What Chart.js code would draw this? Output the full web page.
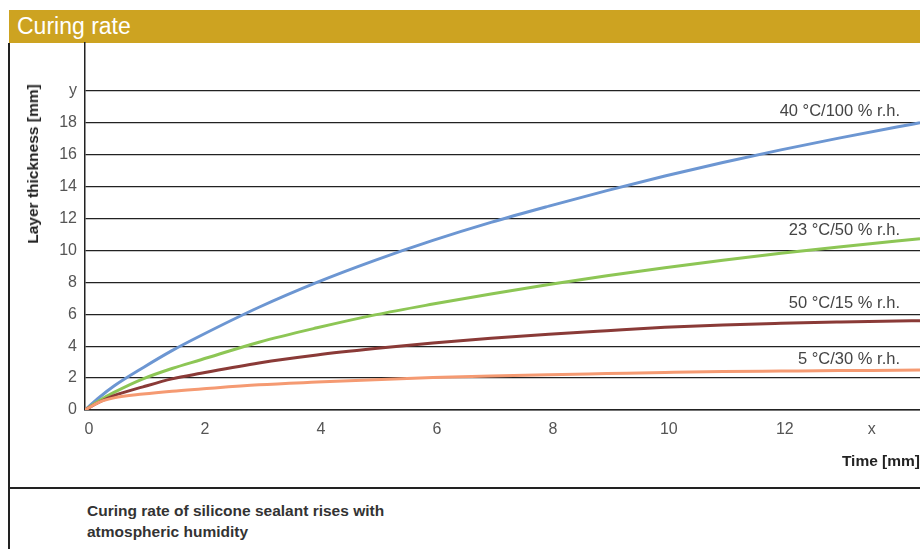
<!DOCTYPE html>
<html>
<head>
<meta charset="utf-8">
<script src="https://cdn.jsdelivr.net/npm/chart.js@4"></script>
<style>
  html, body { margin: 0; padding: 0; background: #fff; }
  body { width: 920px; height: 549px; position: relative; overflow: hidden; font-family: "Liberation Sans", Arial, sans-serif; }
  #header { position: absolute; left: 9px; top: 10px; width: 911px; height: 33px; background: #CDA321; color: #fff; font-size: 23px; line-height: 33px; padding-left: 8px; box-sizing: border-box; }
  #leftBorder { position: absolute; left: 8px; top: 43px; width: 2px; height: 506px; background: #222; }
  #sep { position: absolute; left: 9px; top: 487px; width: 911px; height: 2px; background: #222; }
  #caption { position: absolute; left: 87px; top: 500px; font-size: 15.5px; font-weight: bold; line-height: 21px; color: #333; }
  #chartWrap { position: absolute; left: 0; top: 0; width: 920px; height: 549px; }
  .lbl { position: absolute; right: 20px; font-size: 16.5px; line-height: 18px; color: #444; white-space: nowrap; }
  #ytitle { position: absolute; left: 33px; top: 164px; transform: translate(-50%, -50%) rotate(-90deg); font-size: 15.5px; font-weight: bold; color: #222; white-space: nowrap; }
  #xtitle { position: absolute; right: 0px; top: 452px; font-size: 15.5px; font-weight: bold; color: #222; white-space: nowrap; line-height: 18px; }
</style>
</head>
<body>
<div id="header">Curing rate</div>
<div id="leftBorder"></div>
<div id="sep"></div>
<div id="caption">Curing rate of silicone sealant rises with<br>atmospheric humidity</div>
<div id="chartWrap"><canvas id="c" width="920" height="549"></canvas></div>
<div id="ytitle">Layer thickness [mm]</div>
<div id="xtitle">Time [mm]</div>
<div class="lbl" style="top:101px">40 °C/100 % r.h.</div>
<div class="lbl" style="top:220px">23 °C/50 % r.h.</div>
<div class="lbl" style="top:293px">50 °C/15 % r.h.</div>
<div class="lbl" style="top:349px">5 °C/30 % r.h.</div>
<script>
const xs = [0, 0.25, 0.5, 1, 1.5, 2, 3, 4, 5, 6, 7, 8, 9, 10, 11, 12, 13, 14, 14.4];
const s40_100 = [0, 0.8, 1.5, 2.65, 3.72, 4.67, 6.44, 8.0, 9.38, 10.63, 11.76, 12.78, 13.75, 14.66, 15.51, 16.3, 17.04, 17.74, 18.0];
const s23_50  = [0, 0.6, 1.1, 1.95, 2.6, 3.15, 4.25, 5.15, 5.96, 6.64, 7.27, 7.86, 8.41, 8.92, 9.39, 9.82, 10.22, 10.59, 10.73];
const s50_15  = [0, 0.5, 0.9, 1.45, 1.95, 2.3, 2.95, 3.45, 3.85, 4.2, 4.5, 4.75, 4.97, 5.18, 5.33, 5.43, 5.51, 5.58, 5.6];
const s5_30   = [0, 0.5, 0.76, 1.0, 1.18, 1.32, 1.58, 1.75, 1.9, 2.03, 2.13, 2.21, 2.28, 2.35, 2.41, 2.44, 2.47, 2.49, 2.5];
const xTickValues = [0, 2, 4, 6, 8, 10, 12, 13.5];
const xTickLabels = ['0', '2', '4', '6', '8', '10', '12', 'x'];
const yTickValues = [0, 2, 4, 6, 8, 10, 12, 14, 16, 18, 20];
const yTickLabels = ['0', '2', '4', '6', '8', '10', '12', '14', '16', '18', 'y'];

function pts(arr) { return xs.map((x, i) => ({x: x, y: arr[i]})); }
function ds(label, arr, color) {
  return { label, data: pts(arr), borderColor: color, borderWidth: 3, pointRadius: 0, fill: false, cubicInterpolationMode: 'monotone' };
}
const tickFont = { family: '"Liberation Sans", Arial, sans-serif', size: 16 };

new Chart(document.getElementById('c'), {
  type: 'line',
  data: {
    datasets: [
      ds('5 °C/30 % r.h.', s5_30, '#F59A72'),
      ds('50 °C/15 % r.h.', s50_15, '#8A3A37'),
      ds('23 °C/50 % r.h.', s23_50, '#8DC655'),
      ds('40 °C/100 % r.h.', s40_100, '#6C96D2')
    ]
  },
  options: {
    responsive: false,
    animation: false,
    devicePixelRatio: 1,
    layout: { padding: { left: 0, right: 0, top: 43, bottom: 0 } },
    plugins: { legend: { display: false }, tooltip: { enabled: false } },
    scales: {
      x: {
        type: 'linear', min: 0, max: 14.4,
        afterFit: s => { s.height = 139; },
        afterBuildTicks: s => { s.ticks = xTickValues.map(v => ({ value: v })); },
        grid: { display: true, drawOnChartArea: false, drawTicks: false },
        border: { display: true, color: '#222', width: 1.5 },
        ticks: { padding: 10, labelOffset: 4, color: '#555', font: tickFont,
                 autoSkip: false, maxRotation: 0,
                 callback: (v, i) => xTickLabels[i] }
      },
      y: {
        type: 'linear', min: 0, max: 23,
        afterFit: s => { s.width = 85; },
        afterBuildTicks: s => { s.ticks = yTickValues.map(v => ({ value: v })); },
        grid: { color: '#222', lineWidth: 1.3, drawTicks: false },
        border: { display: true, color: '#222', width: 1.5 },
        ticks: { padding: 8, color: '#555', font: tickFont, autoSkip: false,
                 callback: (v, i) => yTickLabels[i] }
      }
    }
  }
});
</script>
</body>
</html>
